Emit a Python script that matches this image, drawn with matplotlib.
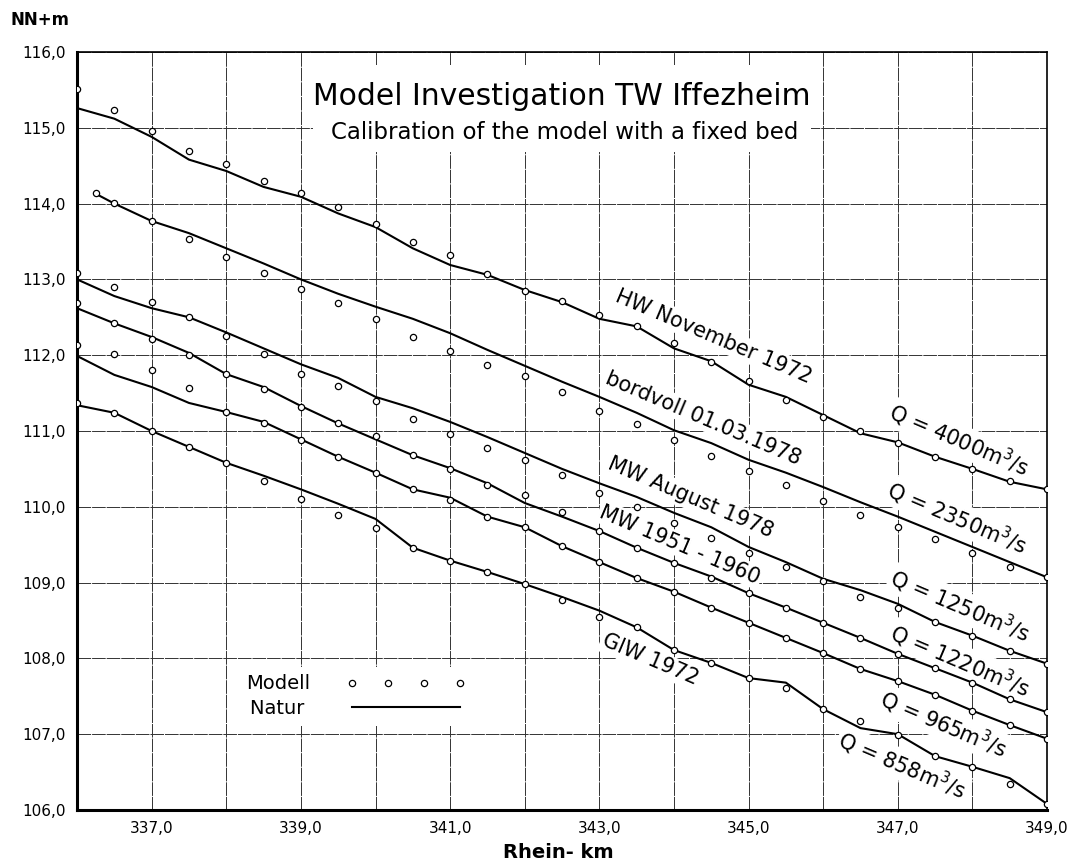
import matplotlib
matplotlib.use("Agg")
import matplotlib.pyplot as plt
from matplotlib.lines import Line2D
from matplotlib.patches import Rectangle

plt.rcParams['font.family'] = ['DejaVu Sans']
plt.rcParams['mathtext.fontset'] = 'dejavusans'

# Rhein-km stations (every 0.5 km)
km = [336.0, 336.5, 337.0, 337.5, 338.0, 338.5, 339.0, 339.5, 340.0, 340.5,
      341.0, 341.5, 342.0, 342.5, 343.0, 343.5, 344.0, 344.5, 345.0, 345.5,
      346.0, 346.5, 347.0, 347.5, 348.0, 348.5, 349.0]
km_bordvoll = [336.25] + km[1:]

# water levels NN+m, model (circles) and nature (line)
hw_model = [115.51, 115.23, 114.96, 114.70, 114.52, 114.30, 114.14, 113.95, 113.73, 113.49,
            113.32, 113.07, 112.85, 112.72, 112.53, 112.39, 112.16, 111.91, 111.66, 111.41,
            111.18, 111.00, 110.84, 110.66, 110.50, 110.34, 110.23]
hw_natur = [115.26, 115.12, 114.88, 114.58, 114.43, 114.22, 114.09, 113.87, 113.69, 113.41,
            113.19, 113.06, 112.86, 112.70, 112.48, 112.38, 112.09, 111.92, 111.61, 111.45,
            111.21, 110.97, 110.85, 110.66, 110.50, 110.33, 110.23]

bv_model = [114.14, 114.01, 113.77, 113.53, 113.30, 113.08, 112.87, 112.69, 112.48, 112.24,
            112.06, 111.87, 111.73, 111.51, 111.26, 111.09, 110.88, 110.67, 110.47, 110.29,
            110.08, 109.89, 109.73, 109.58, 109.39, 109.21, 109.07]
bv_natur = [114.13, 114.00, 113.77, 113.61, 113.41, 113.21, 113.00, 112.81, 112.64, 112.48,
            112.29, 112.07, 111.86, 111.65, 111.45, 111.24, 111.01, 110.84, 110.62, 110.45,
            110.26, 110.06, 109.87, 109.67, 109.47, 109.27, 109.07]

mw78_model = [113.08, 112.90, 112.70, 112.50, 112.25, 112.02, 111.75, 111.59, 111.40, 111.16,
              110.96, 110.78, 110.62, 110.42, 110.18, 110.00, 109.79, 109.59, 109.39, 109.20,
              109.02, 108.81, 108.67, 108.48, 108.30, 108.10, 107.93]
mw78_natur = [113.00, 112.78, 112.62, 112.50, 112.30, 112.09, 111.88, 111.70, 111.45, 111.30,
              111.12, 110.92, 110.71, 110.50, 110.31, 110.13, 109.92, 109.73, 109.47, 109.27,
              109.05, 108.90, 108.72, 108.48, 108.30, 108.10, 107.93]

mw51_model = [112.69, 112.42, 112.21, 112.00, 111.75, 111.55, 111.32, 111.10, 110.93, 110.68,
              110.50, 110.29, 110.16, 109.93, 109.68, 109.46, 109.26, 109.06, 108.86, 108.67,
              108.47, 108.27, 108.06, 107.87, 107.68, 107.46, 107.29]
mw51_natur = [112.62, 112.42, 112.24, 112.03, 111.75, 111.58, 111.33, 111.10, 110.89, 110.68,
              110.51, 110.31, 110.05, 109.87, 109.68, 109.46, 109.26, 109.08, 108.86, 108.67,
              108.47, 108.27, 108.06, 107.87, 107.68, 107.46, 107.29]

q965_model = [112.13, 112.02, 111.80, 111.57, 111.25, 111.10, 110.88, 110.66, 110.45, 110.23,
              110.09, 109.87, 109.73, 109.48, 109.27, 109.06, 108.88, 108.67, 108.47, 108.27,
              108.07, 107.86, 107.70, 107.52, 107.31, 107.12, 106.94]
q965_natur = [111.99, 111.74, 111.58, 111.37, 111.25, 111.12, 110.89, 110.66, 110.45, 110.23,
              110.12, 109.87, 109.73, 109.48, 109.27, 109.06, 108.88, 108.67, 108.47, 108.27,
              108.07, 107.86, 107.70, 107.52, 107.31, 107.12, 106.94]

glw_model = [111.37, 111.24, 111.00, 110.79, 110.58, 110.34, 110.10, 109.89, 109.72, 109.46,
             109.29, 109.14, 108.98, 108.77, 108.54, 108.41, 108.11, 107.94, 107.74, 107.61,
             107.33, 107.17, 106.99, 106.71, 106.57, 106.34, 106.08]
glw_natur = [111.34, 111.24, 111.00, 110.79, 110.58, 110.41, 110.23, 110.04, 109.84, 109.46,
             109.29, 109.14, 108.98, 108.81, 108.63, 108.41, 108.11, 107.94, 107.74, 107.68,
             107.33, 107.08, 107.00, 106.71, 106.57, 106.42, 106.08]

series = [
    (km, hw_model, hw_natur),
    (km_bordvoll, bv_model, bv_natur),
    (km, mw78_model, mw78_natur),
    (km, mw51_model, mw51_natur),
    (km, q965_model, q965_natur),
    (km, glw_model, glw_natur),
]

# event names (left) and discharges (right), with label positions
event_labels = [("HW November 1972", 344.53, 112.25),
                ("bordvoll 01.03.1978", 344.39, 111.17),
                ("MW August 1978", 344.22, 110.12),
                ("MW 1951 - 1960", 344.08, 109.50),
                ("GlW 1972", 343.68, 107.98)]
q_values = ["4000", "2350", "1250", "1220", "965", "858"]
q_pos = [(347.82, 110.88), (347.80, 109.85), (347.84, 108.69),
         (347.84, 107.97), (347.62, 107.13), (347.06, 106.59)]

fig = plt.figure(figsize=(10.73, 8.65), dpi=100)
ax = fig.add_axes([0.0718, 0.0636, 0.904, 0.8763])

for x, mod, nat in series:
    ax.plot(x, nat, color='black', linewidth=1.5, zorder=3)
    ax.plot(x, mod, linestyle='none', marker='o', markersize=4.5,
            markerfacecolor='white', markeredgecolor='black', markeredgewidth=0.9, zorder=4)

ax.set_xlim(336, 349)
ax.set_ylim(106, 116)
ax.set_xticks([336 + i for i in range(14)])
ax.set_xticklabels([f"{336 + i},0" if i % 2 == 1 else "" for i in range(14)], fontsize=11)
ax.set_yticks([106 + i for i in range(11)])
ax.set_yticklabels([f"{106 + i},0" for i in range(11)], fontsize=11)
ax.tick_params(length=0, pad=8)
ax.set_axisbelow(True)
ax.grid(True, color='#333333', linewidth=0.7, linestyle=(0, (14, 1)))

for side, lw in [('left', 2.2), ('bottom', 2.2), ('top', 1.2), ('right', 1.2)]:
    ax.spines[side].set_linewidth(lw)

# white panel behind the heading
ax.add_patch(Rectangle((339.16, 114.68), 6.67, 1.15, facecolor='white',
                       edgecolor='none', zorder=1))
ax.text(342.49, 115.41, "Model Investigation TW Iffezheim", fontsize=21.5,
        ha='center', va='center', zorder=5)
ax.text(342.53, 114.94, "Calibration of the model with a fixed bed", fontsize=16.5,
        ha='center', va='center', zorder=5)

box = dict(facecolor='white', edgecolor='none', pad=1.5)
for txt, x, y in event_labels:
    ax.text(x, y, txt, fontsize=15, rotation=-23, rotation_mode='anchor',
            ha='center', va='center', bbox=box, zorder=2.5)
for q, (x, y) in zip(q_values, q_pos):
    ax.text(x, y, f"Q = {q}m$^{{3}}$/s", fontsize=15, rotation=-23,
            rotation_mode='anchor', ha='center', va='center', bbox=box, zorder=2.5)

handles = [Line2D([], [], linestyle='none', marker='o', markersize=4.5,
                  markerfacecolor='white', markeredgecolor='black', markeredgewidth=0.9),
           Line2D([], [], color='black', linewidth=1.5)]
# trailing space keeps both labels roughly flush left when markers sit on the right
leg = ax.legend(handles, ["Modell", "Natur "], numpoints=4, markerfirst=False,
                handlelength=6.2, fontsize=14, frameon=True, fancybox=False,
                framealpha=1, edgecolor='none', facecolor='white',
                loc='center', bbox_to_anchor=(0.288, 0.150), borderpad=0.4,
                labelspacing=0.3, handletextpad=1.8)

fig.text(10 / 1073, 1 - 20 / 865, "NN+m", fontsize=12, fontweight='bold',
         ha='left', va='center')
fig.text(558 / 1073, 1 - 853 / 865, "Rhein- km", fontsize=14, fontweight='bold',
         ha='center', va='center')

fig.savefig("out.png", dpi=100)
